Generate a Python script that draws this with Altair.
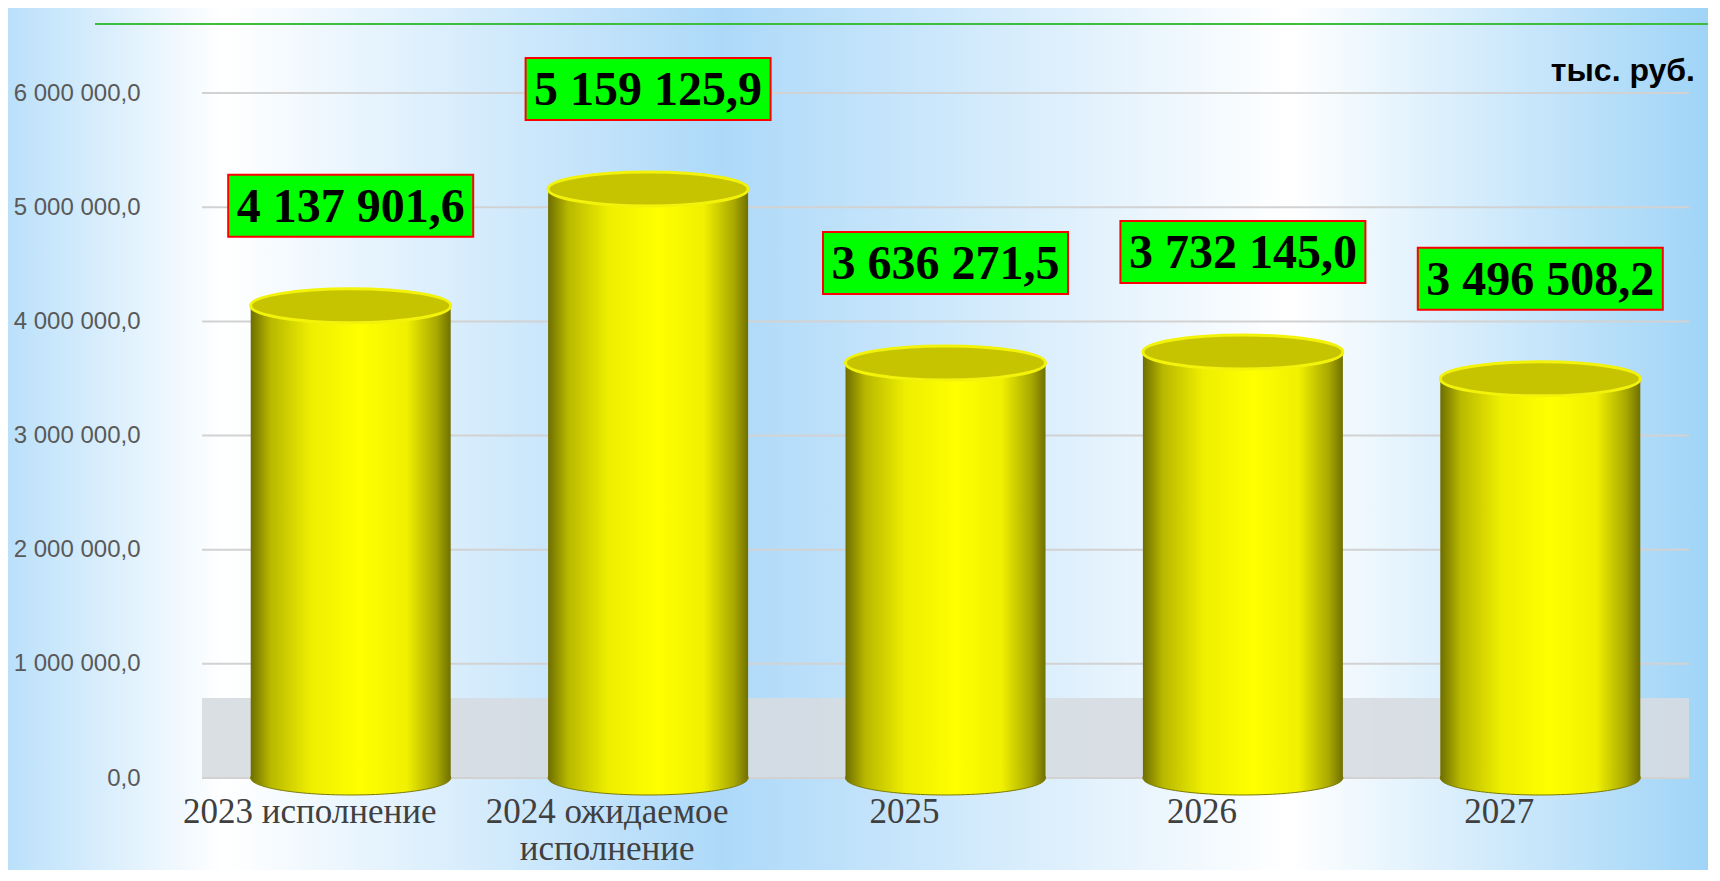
import altair as alt
import pandas as pd

categories = ["2023 исполнение", "2024 ожидаемое\nисполнение", "2025", "2026", "2027"]
values = [4137901.6, 5159125.9, 3636271.5, 3732145.0, 3496508.2]
tick_values = [0, 1000000, 2000000, 3000000, 4000000, 5000000, 6000000]
unit_label = "тыс. руб."


def fmt(v):
    return f"{v:,.1f}".replace(",", " ").replace(".", ",")


df = pd.DataFrame({"cat": categories, "value": values, "label": [fmt(v) for v in values]})
grid_df = pd.DataFrame({"value": tick_values})
one = pd.DataFrame({"k": [0]})

W, H = 1487, 742
YMAX = 6500000

xscale = alt.Scale(domain=categories, paddingInner=0.3, paddingOuter=0.15)
yscale = alt.Scale(domain=[0, YMAX], nice=False, zero=True)

x_axis = alt.Axis(
    labelOffset=-41, labelFont="Liberation Serif", labelFontSize=35, labelColor="#404040",
    labelAlign="center", labelBaseline="top",
    labelPadding=16, labelLineHeight=37, labelExpr="split(datum.label, '\\n')",
    domain=False, ticks=False, tickSize=0, grid=False, labelLimit=600, labelOverlap=False,
    labelAngle=0, title=None, zindex=1,
)
y_axis = alt.Axis(
    values=tick_values, format=",.1f", labelFont="Liberation Sans", labelFontSize=24,
    labelColor="#595959", labelPadding=62, ticks=False, tickSize=0, domain=False,
    grid=False, title=None, zindex=1,
)

X = alt.X("cat:N", sort=categories, scale=xscale)
Y = alt.Y("value:Q", scale=yscale)

bg_gradient = alt.LinearGradient(
    gradient="linear", x1=0, x2=1, y1=0, y2=0,
    stops=[
        alt.GradientStop(color="#B8DFFA", offset=0),
        alt.GradientStop(color="#FFFFFF", offset=0.13),
        alt.GradientStop(color="#ADD9F9", offset=0.42),
        alt.GradientStop(color="#FFFFFF", offset=0.75),
        alt.GradientStop(color="#9DD3F7", offset=1),
    ],
)
body_gradient = alt.LinearGradient(
    gradient="linear", x1=0, x2=1, y1=0, y2=0,
    stops=[
        alt.GradientStop(color="#6E6E00", offset=0),
        alt.GradientStop(color="#B8B800", offset=0.1),
        alt.GradientStop(color="#EEEE00", offset=0.3),
        alt.GradientStop(color="#FFFF00", offset=0.55),
        alt.GradientStop(color="#F0F000", offset=0.78),
        alt.GradientStop(color="#A8A800", offset=0.93),
        alt.GradientStop(color="#707000", offset=1),
    ],
)

ellipse = "M -1 0 A 1 0.17 0 1 0 1 0 A 1 0.17 0 1 0 -1 0 Z"
box = "M -1 -0.253 L 1 -0.253 L 1 0.253 L -1 0.253 Z"

background = alt.Chart(one).mark_rect(fill=bg_gradient).encode(
    x=alt.value(-202), x2=alt.value(1518), y=alt.value(-36), y2=alt.value(845)
)
floor = alt.Chart(one).mark_rect(fill="#D6DCE1", opacity=0.9).encode(
    x=alt.value(0), x2=alt.value(W), y=alt.value(H - 80), y2=alt.value(H)
)
green_line = alt.Chart(one).mark_rule(color="#3DBE3D", strokeWidth=2).encode(
    x=alt.value(-107), x2=alt.value(1509), y=alt.value(-12)
)
grid = alt.Chart(grid_df).mark_rule(color="#D2D2D2", strokeWidth=2).encode(
    y=alt.Y("value:Q", scale=yscale, axis=y_axis)
)
bottom = alt.Chart(df).mark_point(
    shape=ellipse, size=40000, filled=True, fill=body_gradient, stroke="#7A7A00",
    strokeWidth=1, opacity=1,
).encode(x=X, y=alt.datum(0))
bars = alt.Chart(df).mark_bar(size=200, fill=body_gradient).encode(
    x=alt.X("cat:N", sort=categories, scale=xscale, axis=x_axis),
    y=Y,
)
top = alt.Chart(df).mark_point(
    shape=ellipse, size=40000, filled=True, fill="#C6C300", stroke="#F2F20A",
    strokeWidth=3, opacity=1,
).encode(x=X, y=Y)
label_box = alt.Chart(df).mark_point(
    shape=box, size=245 * 245, filled=True, fill="#00FF00", stroke="#FF0000",
    strokeWidth=2, opacity=1,
).encode(x=X, y=Y, yOffset=alt.value(-100))
label_text = alt.Chart(df).mark_text(
    font="Liberation Serif", fontWeight="bold", fontSize=48, color="#000000",
    baseline="middle", dy=-98,
).encode(x=X, y=Y, text="label:N")
unit = alt.Chart(one).mark_text(
    font="Liberation Sans", fontWeight="bold", fontSize=32, color="#000000",
    align="right", baseline="middle",
).encode(x=alt.value(1493), y=alt.value(35), text=alt.value(unit_label))

chart = alt.layer(
    background, floor, green_line, grid, bottom, bars, top, label_box, label_text, unit
).properties(
    width=W, height=H,
    autosize=alt.AutoSizeParams(type="none"),
    padding={"left": 194, "top": 28, "right": 19, "bottom": 92},
    background="#CBE7FB",
).configure(
    locale={"number": {"decimal": ",", "thousands": " ", "grouping": [3], "currency": ["", ""]}}
).configure_view(stroke=None)

chart.save("out.html", embed_options={"renderer": "svg", "actions": False})
